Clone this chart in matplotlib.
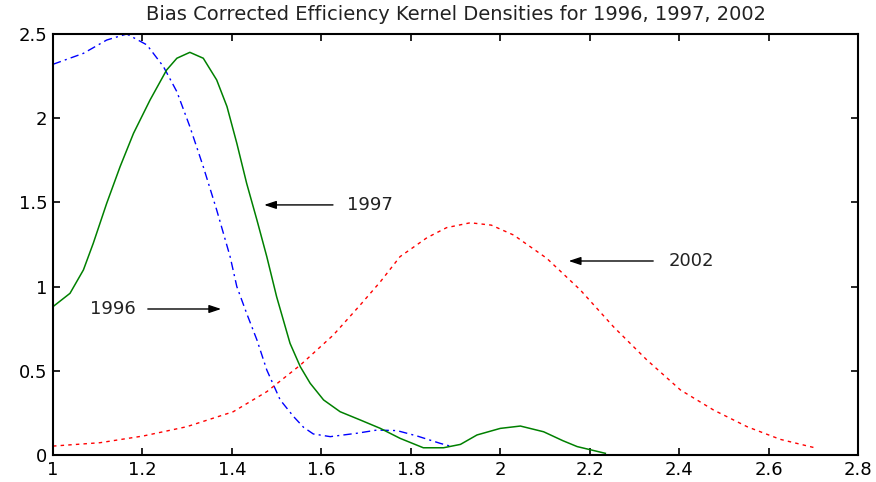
import matplotlib.pyplot as plt

plt.rcParams.update({
    "font.family": ["DejaVu Sans"],
    "font.size": 12,
})

# ── Kernel density estimates ────────────────────────────────────────────────
x_1996 = [1.000, 1.068, 1.120, 1.165, 1.210, 1.247, 1.277, 1.306, 1.336, 1.366,
          1.396, 1.411, 1.433, 1.456, 1.478, 1.508, 1.538, 1.560, 1.582, 1.620,
          1.679, 1.724, 1.769, 1.814, 1.866, 1.888]
y_1996 = [2.32, 2.385, 2.464, 2.50, 2.435, 2.306, 2.157, 1.95, 1.712, 1.455,
          1.178, 1.00, 0.841, 0.683, 0.505, 0.327, 0.228, 0.165, 0.125, 0.109,
          0.129, 0.148, 0.145, 0.113, 0.069, 0.053]

x_1997 = [1.000, 1.038, 1.068, 1.090, 1.120, 1.150, 1.180, 1.217, 1.254, 1.277,
          1.306, 1.336, 1.366, 1.389, 1.411, 1.433, 1.456, 1.478, 1.500, 1.530,
          1.553, 1.575, 1.605, 1.642, 1.687, 1.732, 1.776, 1.828, 1.873, 1.911,
          1.948, 2.000, 2.045, 2.097, 2.140, 2.172, 2.235]
y_1997 = [0.881, 0.960, 1.099, 1.257, 1.494, 1.712, 1.910, 2.108, 2.286, 2.356,
          2.391, 2.356, 2.227, 2.069, 1.851, 1.613, 1.395, 1.178, 0.940, 0.663,
          0.524, 0.426, 0.327, 0.257, 0.208, 0.158, 0.099, 0.043, 0.043, 0.063,
          0.119, 0.158, 0.172, 0.138, 0.085, 0.050, 0.010]

x_2002 = [1.000, 1.105, 1.202, 1.299, 1.403, 1.478, 1.553, 1.627, 1.687, 1.732,
          1.776, 1.836, 1.880, 1.933, 1.980, 2.030, 2.104, 2.179, 2.253, 2.328,
          2.403, 2.477, 2.552, 2.626, 2.708]
y_2002 = [0.053, 0.073, 0.113, 0.168, 0.257, 0.376, 0.534, 0.713, 0.891, 1.029,
          1.178, 1.290, 1.350, 1.379, 1.365, 1.306, 1.168, 0.980, 0.762, 0.564,
          0.386, 0.267, 0.168, 0.093, 0.040]

x_ticks = [1, 1.2, 1.4, 1.6, 1.8, 2, 2.2, 2.4, 2.6, 2.8]
x_tick_labels = ["1", "1.2", "1.4", "1.6", "1.8", "2", "2.2", "2.4", "2.6", "2.8"]
y_ticks = [0, 0.5, 1, 1.5, 2, 2.5]
y_tick_labels = ["0", "0.5", "1", "1.5", "2", "2.5"]

fig = plt.figure(figsize=(8.76, 4.82), dpi=100)
ax = fig.add_axes([0.0605, 0.056, 0.919, 0.8735])

ax.plot(x_1996, y_1996, color="#0000ff", lw=1.0, ls=(0, (6, 3, 1.5, 3)))
ax.plot(x_1997, y_1997, color="#008000", lw=1.1, ls="-")
ax.plot(x_2002, y_2002, color="#ff0000", lw=1.0, ls=(0, (2.5, 3)))

# labels with arrows
arrow = dict(arrowstyle="-|>,head_length=0.6,head_width=0.2", color="black", lw=1.0,
             shrinkA=0, shrinkB=0)
ax.annotate("", xy=(1.472, 1.485), xytext=(1.626, 1.485), arrowprops=arrow)
ax.text(1.658, 1.485, "1997", va="center", ha="left", fontsize=13, color="#222222")
ax.annotate("", xy=(1.376, 0.867), xytext=(1.212, 0.867), arrowprops=arrow)
ax.text(1.083, 0.867, "1996", va="center", ha="left", fontsize=13, color="#222222")
ax.annotate("", xy=(2.153, 1.152), xytext=(2.342, 1.152), arrowprops=arrow)
ax.text(2.376, 1.152, "2002", va="center", ha="left", fontsize=13, color="#222222")

ax.set_xlim(1, 2.8)
ax.set_ylim(0, 2.5)
ax.set_xticks(x_ticks)
ax.set_xticklabels(x_tick_labels)
ax.set_yticks(y_ticks)
ax.set_yticklabels(y_tick_labels)
ax.tick_params(direction="in", length=5, width=1.2, top=True, right=True,
               labelsize=13, pad=4)
for s in ax.spines.values():
    s.set_linewidth(1.5)

ax.set_title("Bias Corrected Efficiency Kernel Densities for 1996, 1997, 2002",
             fontsize=14, pad=10, color="#222222")

fig.savefig("out.png", dpi=100)
